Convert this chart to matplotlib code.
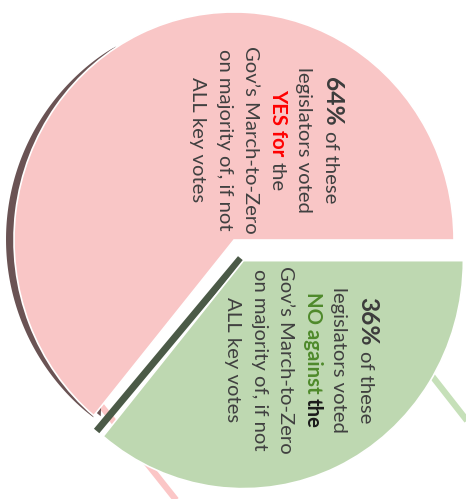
import matplotlib
matplotlib.use('Agg')
import matplotlib.pyplot as plt
from matplotlib.patches import Polygon
import numpy as np

# ---- data ----
slice_labels = ['YES for', 'NO against']
slice_values = [64, 36]
slice_colors = ['#f9c6c6', '#bed8b1']
pink_text = [
    [('64%', 'bold', 1.22, '#3c3c3c'), (' of these', 'normal', 1.0, '#404040')],
    [('legislators voted', 'normal', 1.0, '#404040')],
    [('YES for', 'bold', 1.0, '#ff0000'), (' the', 'normal', 1.0, '#404040')],
    [('Gov\u2019s March-to-Zero', 'normal', 1.0, '#404040')],
    [('on majority of, if not', 'normal', 1.0, '#404040')],
    [('ALL key votes', 'normal', 1.0, '#404040')],
]
green_text = [
    [('36%', 'bold', 1.22, '#3c3c3c'), (' of these', 'normal', 1.0, '#404040')],
    [('legislators voted', 'normal', 1.0, '#404040')],
    [('NO against', 'bold', 1.0, '#4f8a2b'), (' the', 'bold', 1.0, '#1a1a1a')],
    [('Gov\u2019s March-to-Zero', 'normal', 1.0, '#404040')],
    [('on majority of, if not', 'normal', 1.0, '#404040')],
    [('ALL key votes', 'normal', 1.0, '#404040')],
]

FONT = ['Lato', 'DejaVu Sans']
W, H = 466, 499
fig = plt.figure(figsize=(W / 100, H / 100), dpi=100)
cx, cy, rx, ry = 234, 240, 220, 228

ax = fig.add_axes([0, 0, 1, 1])
explode = [0, 0.10]
wedges, _ = ax.pie(slice_values, colors=slice_colors, startangle=0, counterclock=True,
                   explode=explode, radius=1, center=(0, 0), frame=False,
                   wedgeprops=dict(edgecolor='white', linewidth=1.2, zorder=2))
ax.set_aspect('auto')
ax.set_xlim(-cx / rx, (W - cx) / rx)
ax.set_ylim(-(H - cy) / ry, cy / ry)
ax.set_axis_off()


def to_data(x, y):
    return ((x - cx) / rx, (cy - y) / ry)


# 3D-ish dark rim behind the pink slice (tapered at both ends)
t_end = wedges[0].theta2 + 1.5
t_start = 122
ang = np.linspace(t_start, t_end, 120)
thick = 6.5 * np.sin(np.pi * (ang - t_start) / (t_end - t_start)) ** 0.6
outer = [to_data(cx + (rx + t) * np.cos(np.deg2rad(a)) - 1.5,
                 cy - (ry + t * 0.4) * np.sin(np.deg2rad(a))) for a, t in zip(ang, thick)]
inner = [to_data(cx + (rx - 4) * np.cos(np.deg2rad(a)), cy - (ry - 4) * np.sin(np.deg2rad(a)))
         for a in ang[::-1]]
ax.add_patch(Polygon(outer + inner, closed=True, facecolor='#6a5354', edgecolor='none', zorder=1))

# dark side face of the green slice
gmid = np.deg2rad((wedges[1].theta1 + wedges[1].theta2) / 2)
vx = cx + explode[1] * np.cos(gmid) * rx
vy = cy - explode[1] * np.sin(gmid) * ry
a = np.deg2rad(wedges[1].theta1)
ex = vx + (rx + 6) * np.cos(a)
ey = vy - (ry - 4) * np.sin(a)
d = np.array([ex - vx, ey - vy])
d = d / np.linalg.norm(d)
n = np.array([d[1], -d[0]])
if n[1] > 0:
    n = -n
th = 7
poly = [to_data(vx, vy), to_data(ex, ey), to_data(ex + th * n[0], ey + th * n[1]),
        to_data(vx + th * n[0], vy + th * n[1])]
ax.add_patch(Polygon(poly, closed=True, facecolor='#4b5a47', edgecolor='none', zorder=1.5))

# leader-like strips
p1 = to_data(95, 398); p2 = to_data(200, 530)
ax.plot([p1[0], p2[0]], [p1[1], p2[1]], color='#fbc6c6', lw=4.5, zorder=0.5,
        solid_capstyle='butt')
g1 = to_data(425, 367); g2 = to_data(490, 450)
ax.plot([g1[0], g2[0]], [g1[1], g2[1]], color='#c6e0b9', lw=4.5, zorder=0.5,
        solid_capstyle='butt')

# ---- text overlay in pixel coords ----
tax = fig.add_axes([0, 0, 1, 1])
tax.set_xlim(0, W)
tax.set_ylim(H, 0)
tax.set_axis_off()
tax.patch.set_alpha(0)
renderer = fig.canvas.get_renderer()


def wid(s, size, weight):
    t = tax.text(0, 0, s, fontsize=size, fontweight=weight, family=FONT)
    w = t.get_window_extent(renderer).width
    t.remove()
    return w


def adv(s, size, weight):
    return wid('|' + s + '|', size, weight) - wid('||', size, weight)


base = 10 * 146 / wid('legislators voted', 10, 'normal')


def draw_block(lines, x0, yc, dx):
    for i, line in enumerate(lines):
        xb = x0 - i * dx
        total = sum(adv(s, base * sc, w) for s, w, sc, c in line)
        y = yc - total / 2
        for s, w, sc, c in line:
            sz = base * sc
            if s.startswith(' '):
                y += adv(' ', sz, w)
                s2 = s.lstrip(' ')
            else:
                s2 = s
            tax.text(xb, y, s2, fontsize=sz, fontweight=w, color=c, family=FONT,
                     rotation=270, rotation_mode='anchor', ha='left', va='baseline')
            y += adv(s2, sz, w)


draw_block(pink_text, 325, 140, 26.6)
draw_block(green_text, 360, 360, 26.6)

fig.savefig('out.png', dpi=100)
